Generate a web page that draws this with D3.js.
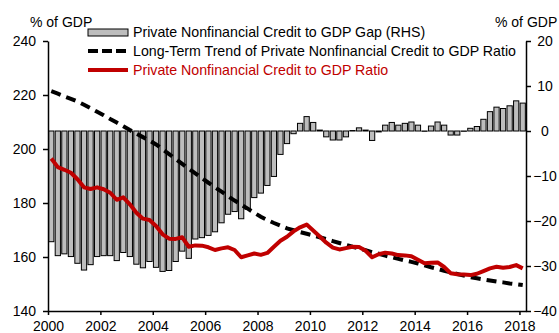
<!DOCTYPE html>
<html>
<head>
<meta charset="utf-8">
<script src="https://cdn.jsdelivr.net/npm/d3@7/dist/d3.min.js"></script>
<style>
  html, body { margin: 0; padding: 0; background: #fff; }
  svg { display: block; font-family: "Liberation Sans", Arial, sans-serif; }
</style>
</head>
<body>
<svg id="chart" width="559" height="333"></svg>
<script>
// Quarterly series, 2000Q1 .. 2018Q1
const startYear = 2000;

// Private nonfinancial credit to GDP gap, % of GDP (right axis)
const creditGap = [
  -24.6, -27.7, -27.3, -27.9, -29.4, -30.9, -29.7, -27.9,
  -27.7, -27.7, -28.8, -27.0, -27.9, -29.6, -30.4, -29.0,
  -30.3, -31.2, -31.0, -29.0, -26.7, -28.3, -24.0, -23.7,
  -23.2, -22.4, -20.4, -18.5, -17.9, -19.5, -17.4, -14.8,
  -13.8, -12.1, -10.1, -5.2, -2.8, -0.6, 1.7, 3.2,
  1.9, 0.2, -1.3, -2.0, -2.0, -1.3, 0.1, 0.7,
  0.2, -2.1, -0.2, 1.3, 1.9, 1.3, 1.7, 2.0,
  1.3, 0.0, 1.1, 2.0, 1.3, -0.9, -0.9, 0.0,
  0.6, 1.0, 2.6, 4.3, 5.3, 5.0, 5.6, 6.7,
  6.2
];

// Long-term trend of the credit to GDP ratio, % of GDP (left axis)
const creditTrend = [
  221.4, 220.5, 219.5, 218.6, 217.6, 216.4, 215.1, 213.8,
  212.5, 211.1, 209.8, 208.4, 207.0, 205.7, 204.4, 203.1,
  201.7, 199.9, 198.1, 196.3, 194.5, 192.7, 191.0, 189.2,
  187.5, 185.8, 184.2, 182.5, 180.9, 179.4, 177.9, 176.4,
  174.9, 173.7, 172.6, 171.6, 170.6, 169.9, 169.2, 168.6,
  168.0, 167.3, 166.6, 165.9, 165.2, 164.5, 163.8, 163.2,
  162.5, 161.8, 161.2, 160.5, 159.9, 159.3, 158.7, 158.2,
  157.6, 156.9, 156.2, 155.6, 154.9, 154.3, 153.7, 153.1,
  152.5, 152.1, 151.7, 151.3, 150.9, 150.6, 150.2, 149.9,
  149.6
];

// Private nonfinancial credit to GDP ratio, % of GDP (left axis)
const creditRatio = [
  196.5, 193.3, 192.3, 191.2, 188.8, 185.8, 185.2, 185.8,
  185.1, 183.8, 181.2, 182.1, 179.5, 176.4, 174.2, 173.7,
  171.5, 168.4, 166.8, 166.7, 167.3, 163.8, 164.3, 164.2,
  163.6, 162.6, 163.2, 163.6, 162.6, 159.9, 160.6, 161.3,
  160.8, 161.5, 163.8, 166.0, 167.5, 169.5, 171.0, 172.0,
  169.8, 167.6, 165.3, 163.5, 162.8, 163.3, 163.8, 163.7,
  162.3, 159.9, 161.0, 161.6, 161.3, 160.7, 160.6, 160.3,
  159.0, 157.7, 157.9, 158.0, 156.3, 154.0, 153.6, 153.5,
  153.3, 153.8, 154.8, 155.8, 156.4, 156.0, 156.3, 157.0,
  155.8
];

const leftTicks = [140, 160, 180, 200, 220, 240];
const rightTicks = [20, 10, 0, -10, -20, -30, -40];
const yearTicks = [2000, 2002, 2004, 2006, 2008, 2010, 2012, 2014, 2016, 2018];

const legendLabels = [
  "Private Nonfinancial Credit to GDP Gap (RHS)",
  "Long-Term Trend of Private Nonfinancial Credit to GDP Ratio",
  "Private Nonfinancial Credit to GDP Ratio"
];

// quarter labels for the band scale
const quarters = creditGap.map((_, i) => `${startYear + Math.floor(i / 4)}Q${(i % 4) + 1}`);

const W = 559, H = 333;
const plot = { left: 48, right: 526, top: 41, bottom: 311 };

const svg = d3.select("#chart");
svg.append("rect").attr("width", W).attr("height", H).attr("fill", "#fff");

const xTime = d3.scaleLinear()
  .domain([startYear, startYear + quarters.length / 4])
  .range([plot.left, plot.right]);

const xBand = d3.scaleBand()
  .domain(quarters)
  .range([plot.left, plot.right])
  .paddingInner(0.2)
  .paddingOuter(0.1);

const yL = d3.scaleLinear().domain([140, 240]).range([plot.bottom, plot.top]);
const yR = d3.scaleLinear().domain([-40, 20]).range([plot.bottom, plot.top]);

const cx = (i) => xBand(quarters[i]) + xBand.bandwidth() / 2;

// gap bars
svg.append("g")
  .selectAll("rect")
  .data(creditGap)
  .join("rect")
  .attr("x", (d, i) => xBand(quarters[i]))
  .attr("width", xBand.bandwidth())
  .attr("y", d => Math.min(yR(d), yR(0)))
  .attr("height", d => Math.max(Math.abs(yR(d) - yR(0)), 0.3))
  .attr("fill", "#bdbdbd")
  .attr("stroke", "#000")
  .attr("stroke-width", 1);

// trend line (dashed)
const line = (arr) => d3.line()
  .x((d, i) => cx(i))
  .y(d => yL(d))(arr);

svg.append("path")
  .attr("d", line(creditTrend))
  .attr("fill", "none")
  .attr("stroke", "#000")
  .attr("stroke-width", 4)
  .attr("stroke-dasharray", "10,6");

// credit ratio line
svg.append("path")
  .attr("d", line(creditRatio))
  .attr("fill", "none")
  .attr("stroke", "#c00000")
  .attr("stroke-width", 4)
  .attr("stroke-linejoin", "round");

// axes
const styleAxis = (g, size) => {
  g.select(".domain").attr("stroke", "#000").attr("stroke-width", 1.5);
  g.selectAll(".tick line").attr("stroke", "#000").attr("stroke-width", 1.5);
  g.selectAll(".tick text").attr("fill", "#000").style("font-size", size + "px")
    .style("font-family", '"Liberation Sans", Arial, sans-serif');
};

svg.append("g")
  .attr("transform", `translate(${plot.left},0)`)
  .call(d3.axisLeft(yL).tickValues(leftTicks).tickSize(5).tickPadding(7).tickSizeOuter(0))
  .call(g => styleAxis(g, 14));

svg.append("g")
  .attr("transform", `translate(${plot.right},0)`)
  .call(d3.axisRight(yR).tickValues(rightTicks).tickSize(5).tickSizeOuter(0))
  .call(g => styleAxis(g, 14))
  .call(g => g.selectAll(".tick text").attr("x", 19).attr("text-anchor", "middle"));

svg.append("g")
  .attr("transform", `translate(0,${plot.bottom})`)
  .call(d3.axisBottom(xTime).tickValues(yearTicks).tickFormat(d3.format("d")).tickSize(4).tickPadding(6).tickSizeOuter(0))
  .call(g => styleAxis(g, 14));

// axis unit titles
svg.append("text").attr("x", 30).attr("y", 26.5).text("% of GDP")
  .style("font-size", "14px").attr("fill", "#000");
svg.append("text").attr("x", 495).attr("y", 26.5).text("% of GDP")
  .style("font-size", "14px").attr("fill", "#000");

// legend
const lg = svg.append("g");
const rowY = [32.5, 51, 70];
const keyX0 = 88, keyX1 = 128, textX = 133;

lg.append("rect")
  .attr("x", keyX0).attr("y", rowY[0] - 3.5)
  .attr("width", keyX1 - keyX0).attr("height", 7)
  .attr("fill", "#bdbdbd").attr("stroke", "#000").attr("stroke-width", 1);
lg.append("line")
  .attr("x1", keyX0).attr("x2", keyX1).attr("y1", rowY[1]).attr("y2", rowY[1])
  .attr("stroke", "#000").attr("stroke-width", 4).attr("stroke-dasharray", "10,4");
lg.append("line")
  .attr("x1", keyX0).attr("x2", keyX1).attr("y1", rowY[2]).attr("y2", rowY[2])
  .attr("stroke", "#c00000").attr("stroke-width", 4);

const legendColors = ["#000", "#000", "#c00000"];
lg.selectAll("text.leg")
  .data(legendLabels)
  .join("text")
  .attr("class", "leg")
  .attr("x", textX)
  .attr("y", (d, i) => rowY[i])
  .attr("dy", "0.35em")
  .attr("fill", (d, i) => legendColors[i])
  .style("font-size", "14.2px")
  .text(d => d);
</script>
</body>
</html>
